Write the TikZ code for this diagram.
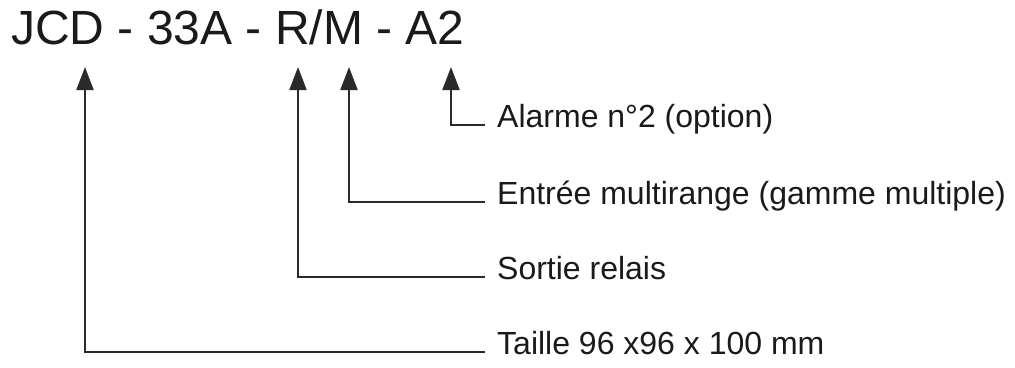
\documentclass[tikz,border=0pt]{standalone}
\usepackage{fontspec}
\setmainfont{Liberation Sans}
\usepackage{xcolor}
\usetikzlibrary{arrows.meta,positioning}
\definecolor{ink}{HTML}{1A1A1A}
\definecolor{wire}{HTML}{2A2A2A}
\tikzset{
  code/.style={text=ink, font=\fontsize{48}{50}\selectfont, inner sep=0pt, anchor=base west},
  lab/.style={text=ink, font=\fontsize{32}{34}\selectfont, inner sep=0pt, anchor=west,
    text height=0.75em, text depth=0.2em},
  wirel/.style={draw=wire, line width=2pt, -{Triangle[length=23pt,width=17pt]}},
}
\begin{document}
\begin{tikzpicture}[x=1pt,y=-1pt]
\useasboundingbox (0,0) rectangle (1015,367);
\node[code] (title) at (11,44) {JCD - 33A - R/M - A2};

\coordinate (tJCD) at (85,67);
\coordinate (tR) at (298,67);
\coordinate (tM) at (349,67);
\coordinate (tA) at (451,67);

\coordinate (eA) at (485,125);
\coordinate (eM) at (485,202);
\coordinate (eR) at (485,277);
\coordinate (eJCD) at (485,352);

\node[lab, right=12pt of eA] (alarme) {Alarme n°2 (option)};
\node[lab, right=12pt of eM] (entree) {Entrée multirange (gamme multiple)};
\node[lab, right=12pt of eR] (sortie) {Sortie relais};
\node[lab, right=12pt of eJCD] (taille) {Taille 96 x96 x 100 mm};

\draw[wirel] (eA) -| (tA);
\draw[wirel] (eM) -| (tM);
\draw[wirel] (eR) -| (tR);
\draw[wirel] (eJCD) -| (tJCD);
\end{tikzpicture}
\end{document}
